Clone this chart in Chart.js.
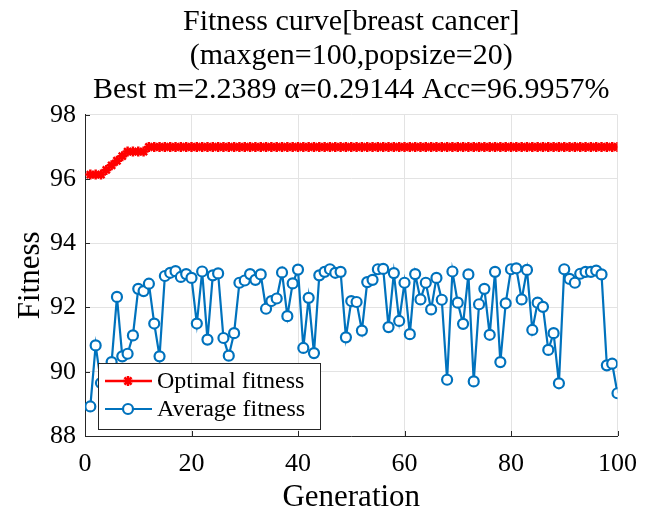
<!DOCTYPE html>
<html>
<head>
<meta charset="utf-8">
<script src="https://cdn.jsdelivr.net/npm/chart.js@4.4.1/dist/chart.umd.min.js"></script>
<style>
  body { margin: 0; background: #fff; }
  #wrap { width: 650px; height: 511px; }
</style>
</head>
<body>
<div id="wrap"><canvas id="fitness" width="650" height="511"></canvas></div>
<script>
const titleLines = ['Fitness curve[breast cancer]', '(maxgen=100,popsize=20)', 'Best m=2.2389 \u03b1=0.29144 Acc=96.9957%'];
const xTicks = [0, 20, 40, 60, 80, 100];
const yTicks = [88, 90, 92, 94, 96, 98];

// best fitness per generation
const optimalFitness = [
    96.1373, 96.1373, 96.1373, 96.2804, 96.4235, 96.5665, 96.7096, 96.8526, 96.8526, 96.8526,
    96.8526, 96.9957, 96.9957, 96.9957, 96.9957, 96.9957, 96.9957, 96.9957, 96.9957, 96.9957,
    96.9957, 96.9957, 96.9957, 96.9957, 96.9957, 96.9957, 96.9957, 96.9957, 96.9957, 96.9957,
    96.9957, 96.9957, 96.9957, 96.9957, 96.9957, 96.9957, 96.9957, 96.9957, 96.9957, 96.9957,
    96.9957, 96.9957, 96.9957, 96.9957, 96.9957, 96.9957, 96.9957, 96.9957, 96.9957, 96.9957,
    96.9957, 96.9957, 96.9957, 96.9957, 96.9957, 96.9957, 96.9957, 96.9957, 96.9957, 96.9957,
    96.9957, 96.9957, 96.9957, 96.9957, 96.9957, 96.9957, 96.9957, 96.9957, 96.9957, 96.9957,
    96.9957, 96.9957, 96.9957, 96.9957, 96.9957, 96.9957, 96.9957, 96.9957, 96.9957, 96.9957,
    96.9957, 96.9957, 96.9957, 96.9957, 96.9957, 96.9957, 96.9957, 96.9957, 96.9957, 96.9957,
    96.9957, 96.9957, 96.9957, 96.9957, 96.9957, 96.9957, 96.9957, 96.9957, 96.9957, 96.9957
];

// mean fitness of the population per generation
const averageFitness = [
    88.92, 90.82, 89.65, 89.30, 90.30, 92.33, 90.48, 90.56, 91.13, 92.58,
    92.51, 92.74, 91.50, 90.48, 92.98, 93.08, 93.13, 92.95, 93.04, 92.92,
    91.50, 93.12, 91.00, 93.00, 93.06, 91.05, 90.50, 91.20, 92.77, 92.84,
    93.04, 92.86, 93.03, 91.96, 92.20, 92.28, 93.09, 91.73, 92.75, 93.18,
    90.74, 92.30, 90.58, 93.00, 93.11, 93.19, 93.08, 93.11, 91.07, 92.20,
    92.17, 91.28, 92.79, 92.86, 93.19, 93.20, 91.39, 93.07, 91.58, 92.77,
    91.17, 93.04, 92.25, 92.77, 91.94, 92.92, 92.24, 89.75, 93.12, 92.15,
    91.49, 93.03, 89.70, 92.10, 92.58, 91.15, 93.11, 90.30, 92.13, 93.19,
    93.22, 92.25, 93.17, 91.30, 92.15, 92.02, 90.68, 91.20, 89.64, 93.19,
    92.89, 92.77, 93.05, 93.11, 93.11, 93.15, 93.03, 90.20, 90.25, 89.33
];

const serif = "'Liberation Serif', 'Times New Roman', serif";
const AXIS_COLOR = '#262626';

function toPoints(values) {
    return values.map((v, i) => ({ x: i + 1, y: v }))
}

// MATLAB style ticks pointing into the plot
const innerTicks = {
    id: 'innerTicks',
    afterDraw(chart) {
        const { ctx, chartArea, scales } = chart;
        ctx.save();
        ctx.strokeStyle = AXIS_COLOR;
        ctx.lineWidth = 1;
        ctx.beginPath();
        yTicks.forEach(v => {
            const y = Math.round(scales.y.getPixelForValue(v)) + 0.5;
            ctx.moveTo(chartArea.left, y);
            ctx.lineTo(chartArea.left + 5, y);
        });
        xTicks.forEach(v => {
            const x = Math.round(scales.x.getPixelForValue(v)) + 0.5;
            ctx.moveTo(x, chartArea.bottom);
            ctx.lineTo(x, chartArea.bottom - 5);
        });
        ctx.stroke();
        ctx.restore();
    }
};

// boxed legend in the lower left corner, line sample with marker
const boxLegend = {
    id: 'boxLegend',
    afterDatasetsDraw(chart) {
        const { ctx } = chart;
        const left = 98, top = 363, width = 222, height = 66;
        ctx.save();
        ctx.fillStyle = '#fff';
        ctx.fillRect(left, top, width, height);
        ctx.strokeStyle = AXIS_COLOR;
        ctx.lineWidth = 1;
        ctx.strokeRect(left + 0.5, top + 0.5, width, height);
        ctx.font = '24px ' + serif;
        ctx.textBaseline = 'middle';
        chart.data.datasets.forEach((ds, i) => {
            const y = top + 18 + i * 28;
            ctx.strokeStyle = ds.borderColor;
            ctx.lineWidth = ds.borderWidth;
            ctx.beginPath();
            ctx.moveTo(left + 7, y);
            ctx.lineTo(left + 54, y);
            ctx.stroke();
            ctx.fillStyle = ds.pointBackgroundColor;
            ctx.strokeStyle = ds.borderColor;
            ctx.lineWidth = ds.pointBorderWidth;
            Chart.helpers.drawPoint(ctx, {
                pointStyle: ds.pointStyle,
                radius: ds.pointRadius,
                borderWidth: ds.pointBorderWidth,
                rotation: 0
            }, left + 30, y);
            ctx.fillStyle = '#000';
            ctx.fillText(ds.label, left + 59, y + 1);
        });
        ctx.restore();
    }
};

const data = {
    datasets: [
        {
            label: 'Optimal fitness',
            data: toPoints(optimalFitness),
            borderColor: '#ff0000',
            backgroundColor: '#ff0000',
            pointBackgroundColor: '#ff0000',
            pointStyle: 'star',
            pointRadius: 5,
            pointBorderWidth: 2.5,
            borderWidth: 2.5,
            tension: 0,
            fill: false
        },
        {
            label: 'Average fitness',
            data: toPoints(averageFitness),
            borderColor: '#0072bd',
            backgroundColor: '#0072bd',
            pointBackgroundColor: '#ffffff',
            pointStyle: 'circle',
            pointRadius: 5,
            pointBorderWidth: 2.2,
            borderWidth: 2.2,
            tension: 0,
            fill: false
        }
    ]
};

const config = {
    type: 'line',
    data: data,
    options: {
        responsive: false,
        animation: false,
        layout: {
            padding: { left: 0, right: 29, top: 0, bottom: 0 }
        },
        plugins: {
            legend: { display: false },
            tooltip: { enabled: false },
            title: {
                display: true,
                fullSize: false,
                text: titleLines,
                color: '#000',
                font: { family: serif, size: 30, weight: 'normal', lineHeight: 1.13 },
                padding: { top: 5, bottom: 8 }
            }
        },
        scales: {
            x: {
                type: 'linear',
                min: 0,
                max: 100,
                afterFit: scale => { scale.height = 75 },
                afterBuildTicks: scale => { scale.ticks = xTicks.map(v => ({ value: v })) },
                ticks: {
                    color: '#000',
                    padding: 13,
                    maxRotation: 0,
                    font: { family: serif, size: 26 }
                },
                grid: { color: '#e3e3e3', drawTicks: false },
                border: { color: AXIS_COLOR, width: 1 },
                title: {
                    display: true,
                    text: 'Generation',
                    color: '#000',
                    font: { family: serif, size: 31 },
                    padding: { top: 0, bottom: -5 }
                }
            },
            y: {
                type: 'linear',
                min: 88,
                max: 98,
                afterFit: scale => { scale.width = 85 },
                afterBuildTicks: scale => { scale.ticks = yTicks.map(v => ({ value: v })) },
                ticks: {
                    color: '#000',
                    padding: 9,
                    font: { family: serif, size: 26 }
                },
                grid: { color: '#e3e3e3', drawTicks: false },
                border: { color: AXIS_COLOR, width: 1 },
                title: {
                    display: true,
                    text: 'Fitness',
                    color: '#000',
                    font: { family: serif, size: 31 },
                    padding: { top: 12, bottom: 0 }
                }
            }
        }
    },
    plugins: [innerTicks, boxLegend]
};

new Chart(document.getElementById('fitness'), config);
</script>
</body>
</html>
